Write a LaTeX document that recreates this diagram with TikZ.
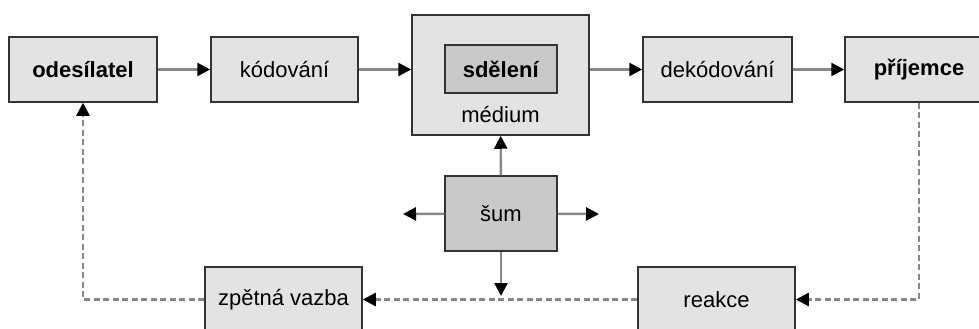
\documentclass[tikz,border=0pt]{standalone}
\usepackage{fontspec}
\setmainfont{Liberation Sans}
\usetikzlibrary{arrows.meta}
\definecolor{boxfill}{HTML}{E3E3E3}
\definecolor{innerfill}{HTML}{C9C9C9}
\definecolor{boxline}{HTML}{333333}
\definecolor{linkgray}{HTML}{888888}
\tikzset{
  block/.style={draw=boxline, fill=boxfill, line width=1.5pt, inner sep=0pt,
    font=\fontsize{22}{24}\selectfont},
  darkblock/.style={block, fill=innerfill},
  flow/.style={draw=linkgray, line width=2.4pt,
    -{Triangle[length=13pt,width=13pt,fill=black,color=black]}},
  feedback/.style={flow, dash pattern=on 6pt off 3.5pt}
}
\begin{document}
\begin{tikzpicture}[x=1pt,y=-1pt]
  \useasboundingbox (0,0) rectangle (979,329);
  \clip (0,0) rectangle (979,329);

  % top row
  \node[block, minimum width=148pt, minimum height=65pt] (sender) at (83,69.5) {\textbf{odesílatel}};
  \node[block, minimum width=147pt, minimum height=65pt] (encode) at (284.5,69.5) {kódování};
  \node[block, minimum width=177pt, minimum height=120pt] (medium) at (500.5,75) {};
  \node[darkblock, minimum width=112pt, minimum height=48pt] (message) at (501,69) {\textbf{sdělení}};
  \node[font=\fontsize{22}{24}\selectfont, inner sep=0pt] (mediumlabel) at (500.5,115) {médium};
  \node[block, minimum width=149pt, minimum height=65pt] (decode) at (717.5,69.5) {dekódování};
  \node[block, minimum width=148pt, minimum height=65pt] (receiver) at (919,69.5) {\textbf{příjemce}};

  % noise
  \node[darkblock, minimum width=112pt, minimum height=75pt] (noise) at (501,213.5) {šum};
  \coordinate (noiseW) at (403,214);
  \coordinate (noiseE) at (599,214);
  \coordinate (noiseS) at (501,296);

  % bottom row
  \node[block, minimum width=157pt, minimum height=65pt] (feedbk) at (283.5,299.5) {zpětná vazba};
  \node[block, minimum width=157pt, minimum height=65pt] (react) at (716.5,299.5) {reakce};

  % forward flow, all on one horizontal line
  \draw[flow] (sender) -- (encode);
  \draw[flow] (encode.east) -- (encode.east -| medium.west);
  \draw[flow] (encode.east -| medium.east) -- (decode.west);
  \draw[flow] (decode) -- (receiver);

  % noise spreading
  \draw[flow] (noise) -- (medium);
  \draw[flow] (noise) -- (noiseW);
  \draw[flow] (noise) -- (noiseE);
  \draw[flow] (noise.south) -- (noiseS);

  % feedback loop
  \draw[feedback] (receiver.south) |- (react.east);
  \draw[feedback] (react) -- (feedbk);
  \draw[feedback] (feedbk.west) -| (sender.south);
\end{tikzpicture}
\end{document}
